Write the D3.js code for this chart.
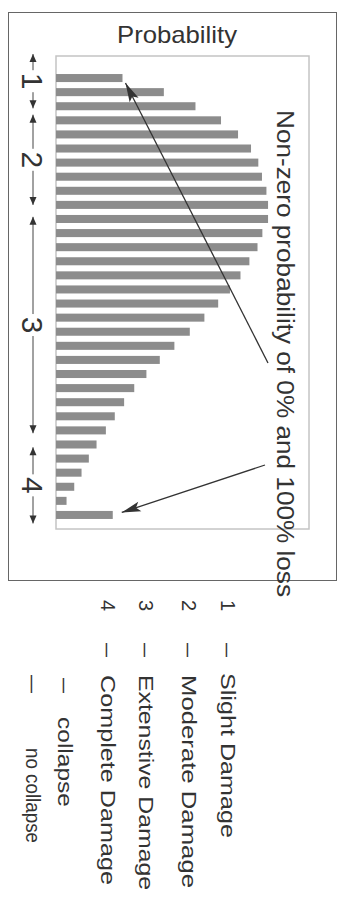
<!DOCTYPE html>
<html>
<head>
<meta charset="utf-8">
<script src="https://cdn.jsdelivr.net/npm/d3@7"></script>
<style>
body { margin: 0; background: #fff; }
text { font-family: "Liberation Sans", Arial, sans-serif; fill: #333; }
</style>
</head>
<body>
<div id="chart"></div>
<script>
// loss bins, top = lowest loss, bottom = 100% loss
const bins = d3.range(1, 33);
const probability = [1.64, 2.66, 3.44, 4.07, 4.49, 4.81, 4.99, 5.08, 5.19, 5.23, 5.23, 5.09, 4.97, 4.77, 4.55, 4.29,
                     4.00, 3.66, 3.30, 2.92, 2.56, 2.23, 1.93, 1.68, 1.45, 1.23, 1.00, 0.81, 0.63, 0.45, 0.26, 1.40];

// damage state ranges, in bin units (0 = first bin)
const stateLabels = ["1", "2", "3", "4"];
const stateFrom = [-1.7, 2.6, 9.85, 26.2];
const stateTo = [2.15, 9.0, 25.2, 31.6];

const legendNum = ["1", "2", "3", "4", "", ""];
const legendText = ["Slight Damage", "Moderate Damage", "Extenstive Damage", "Complete Damage", "collapse", "no collapse"];

const title = "Probability";
const note = "Non-zero probability of 0% and 100% loss";

const width = 342, height = 899;
const box = {left: 56, right: 309, top: 56, bottom: 529};

const svg = d3.select("#chart")
  .append("svg")
  .attr("width", width)
  .attr("height", height);

// arrow heads
const defs = svg.append("defs");
defs.append("marker")
    .attr("id", "bigHead")
    .attr("viewBox", "-20 -6 22 12")
    .attr("refX", 0).attr("refY", 0)
    .attr("markerWidth", 22).attr("markerHeight", 12)
    .attr("markerUnits", "userSpaceOnUse")
    .attr("orient", "auto")
  .append("path")
    .attr("d", "M0,0L-19,-5L-15,0L-19,5Z")
    .attr("fill", "#333");
defs.append("marker")
    .attr("id", "smallHead")
    .attr("viewBox", "-9 -5 10 10")
    .attr("refX", 0).attr("refY", 0)
    .attr("markerWidth", 10).attr("markerHeight", 10)
    .attr("markerUnits", "userSpaceOnUse")
    .attr("orient", "auto")
  .append("path")
    .attr("d", "M0,0L-8,-3.5L-8,3.5Z")
    .attr("fill", "#333");

// outer frame
svg.append("rect")
  .attr("x", 8.5).attr("y", 12.5)
  .attr("width", 328).attr("height", 568)
  .attr("fill", "none")
  .attr("stroke", "#666")
  .attr("stroke-width", 1);

// title
svg.append("text")
  .attr("x", 177).attr("y", 43)
  .attr("text-anchor", "middle")
  .attr("font-size", 24)
  .attr("textLength", 120)
  .attr("lengthAdjust", "spacingAndGlyphs")
  .text(title);

// plot area
svg.append("rect")
  .attr("x", box.left).attr("y", box.top)
  .attr("width", box.right - box.left).attr("height", box.bottom - box.top)
  .attr("fill", "none")
  .attr("stroke", "#c4c4c4")
  .attr("stroke-width", 1.5);

const x = d3.scaleLinear()
  .domain([0, 6.24])
  .range([box.left, box.right]);

const y = d3.scaleBand()
  .domain(bins)
  .range([71, 522])
  .paddingInner(0.43)
  .paddingOuter(0.215);

// bin index (may be fractional) -> centre y
const yIdx = d3.scaleLinear()
  .domain([0, bins.length - 1])
  .range([y(bins[0]) + y.bandwidth() / 2, y(bins[bins.length - 1]) + y.bandwidth() / 2]);

svg.append("g")
  .selectAll("rect")
  .data(probability)
  .join("rect")
    .attr("x", x(0))
    .attr("y", (d, i) => y(bins[i]))
    .attr("width", d => x(d) - x(0))
    .attr("height", y.bandwidth())
    .attr("fill", "#8c8c8c");

// annotation
svg.append("text")
  .attr("transform", "translate(277,110) rotate(90)")
  .attr("font-size", 23.5)
  .attr("textLength", 487)
  .attr("lengthAdjust", "spacingAndGlyphs")
  .text(note);

const last = probability.length - 1;
const pointers = [
  {from: [268, 363], to: [x(probability[0]) + 3, yIdx(0) + 5]},
  {from: [265, 465], to: [x(probability[last]) + 9, yIdx(last) - 2.5]}
];
svg.append("g")
  .selectAll("line")
  .data(pointers)
  .join("line")
    .attr("x1", d => d.from[0]).attr("y1", d => d.from[1])
    .attr("x2", d => d.to[0]).attr("y2", d => d.to[1])
    .attr("stroke", "#333")
    .attr("stroke-width", 1.3)
    .attr("marker-end", "url(#bigHead)");

// damage state ranges on the left
const states = svg.append("g");
stateLabels.forEach(function(s, i) {
  const top = yIdx(stateFrom[i]), bot = yIdx(stateTo[i]), mid = (top + bot) / 2;
  const ax = 33;
  states.append("line")
    .attr("x1", ax).attr("y1", mid - 11).attr("x2", ax).attr("y2", top)
    .attr("stroke", "#444").attr("stroke-width", 1)
    .attr("marker-end", "url(#smallHead)");
  states.append("line")
    .attr("x1", ax).attr("y1", mid + 11).attr("x2", ax).attr("y2", bot)
    .attr("stroke", "#444").attr("stroke-width", 1)
    .attr("marker-end", "url(#smallHead)");
  states.append("text")
    .attr("transform", `translate(21.5,${mid}) rotate(90)`)
    .attr("text-anchor", "middle")
    .attr("font-size", 30)
    .text(s);
});

// legend (rotated like the rest of the figure)
const legBase = [221, 182, 139, 101, 58, 26];
const dashStart = [643, 643, 643, 643, 678, 675];
const dashLen = [14, 14, 14, 14, 15, 18];
const textStart = [673, 675, 675, 675, 717, 748];
const textEnd = [838, 888, 890, 885, 807, 843];

const legend = svg.append("g");
legendText.forEach(function(t, i) {
  if (legendNum[i]) {
    legend.append("text")
      .attr("transform", `translate(${legBase[i]},600) rotate(90)`)
      .attr("font-size", 20)
      .text(legendNum[i]);
  }
  legend.append("text")
    .attr("transform", `translate(${legBase[i]},${dashStart[i]}) rotate(90)`)
    .attr("font-size", 20)
    .attr("textLength", dashLen[i])
    .attr("lengthAdjust", "spacingAndGlyphs")
    .text("–");
  legend.append("text")
    .attr("transform", `translate(${legBase[i]},${textStart[i]}) rotate(90)`)
    .attr("font-size", 20)
    .attr("textLength", textEnd[i] - textStart[i])
    .attr("lengthAdjust", "spacingAndGlyphs")
    .text(t);
});
</script>
</body>
</html>
